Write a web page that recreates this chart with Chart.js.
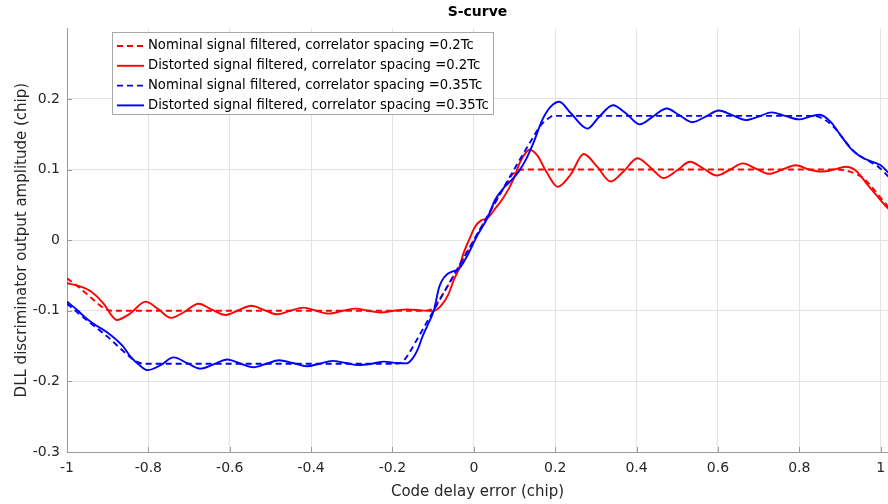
<!DOCTYPE html>
<html>
<head>
<meta charset="utf-8">
<script src="https://cdn.jsdelivr.net/npm/chart.js@4.4.1/dist/chart.umd.min.js"></script>
<style>
  html, body { margin: 0; padding: 0; background: #fff; }
  #wrap { width: 888px; height: 504px; }
</style>
</head>
<body>
<div id="wrap"><canvas id="sCurve"></canvas></div>
<script>
// tick values
const xTicks = [-1, -0.8, -0.6, -0.4, -0.2, 0, 0.2, 0.4, 0.6, 0.8, 1];
const yTicks = [-0.3, -0.2, -0.1, 0, 0.1, 0.2];

// nominal, spacing 0.2Tc (red dashed)
const nom02X = [-1.0, -0.97, -0.94, -0.91, -0.89, -0.86, -0.5, -0.13, -0.11, -0.095, -0.08, 0, 0.08, 0.095, 0.11, 0.125, 0.5, 0.89, 0.91, 0.934, 0.959, 0.983, 1.0, 1.019];
const nom02Y = [-0.054, -0.067, -0.082, -0.096, -0.1, -0.1, -0.1, -0.1, -0.099, -0.093, -0.08, 0, 0.08, 0.093, 0.099, 0.1, 0.1, 0.1, 0.099, 0.095, 0.087, 0.072, 0.06, 0.047];

// distorted, spacing 0.2Tc (red solid)
const dist02X = [-1.0, -0.97, -0.94, -0.91, -0.89, -0.878, -0.845, -0.807, -0.775, -0.745, -0.71, -0.677, -0.645, -0.61, -0.578, -0.547, -0.515, -0.483, -0.452, -0.418, -0.388, -0.357, -0.322, -0.289, -0.26, -0.229, -0.196, -0.163, -0.13, -0.1, -0.078, -0.062, -0.049, -0.037, -0.025, -0.012, 0.003, 0.018, 0.033, 0.053, 0.07, 0.086, 0.098, 0.115, 0.137, 0.156, 0.18, 0.206, 0.238, 0.27, 0.303, 0.336, 0.369, 0.402, 0.434, 0.466, 0.5, 0.531, 0.564, 0.597, 0.63, 0.661, 0.694, 0.726, 0.758, 0.791, 0.824, 0.855, 0.885, 0.914, 0.94, 0.967, 0.992, 1.008, 1.02];
const dist02Y = [-0.061, -0.065, -0.073, -0.09, -0.107, -0.113, -0.104, -0.087, -0.098, -0.11, -0.101, -0.09, -0.098, -0.106, -0.099, -0.093, -0.099, -0.105, -0.1, -0.0955, -0.1, -0.104, -0.1, -0.097, -0.1, -0.1025, -0.1, -0.098, -0.0995, -0.1005, -0.091, -0.076, -0.056, -0.041, -0.018, 0.0, 0.019, 0.028, 0.031, 0.045, 0.058, 0.073, 0.087, 0.112, 0.128, 0.12, 0.095, 0.0755, 0.093, 0.122, 0.104, 0.083, 0.098, 0.116, 0.103, 0.088, 0.099, 0.111, 0.1015, 0.0915, 0.1, 0.1087, 0.101, 0.094, 0.1, 0.106, 0.1, 0.097, 0.1, 0.104, 0.098, 0.079, 0.062, 0.051, 0.044];

// nominal, spacing 0.35Tc (blue dashed)
const nom035X = [-1.0, -0.95, -0.9, -0.86, -0.835, -0.81, -0.5, -0.19, -0.175, -0.16, -0.145, 0, 0.145, 0.165, 0.18, 0.195, 0.5, 0.836, 0.861, 0.885, 0.91, 0.934, 0.967, 0.996, 1.019];
const nom035Y = [-0.09, -0.114, -0.137, -0.158, -0.17, -0.175, -0.175, -0.175, -0.172, -0.161, -0.146, 0, 0.145, 0.163, 0.171, 0.176, 0.176, 0.176, 0.171, 0.16, 0.142, 0.126, 0.113, 0.103, 0.09];

// distorted, spacing 0.35Tc (blue solid)
const dist035X = [-1.0, -0.975, -0.95, -0.925, -0.9, -0.877, -0.86, -0.844, -0.82, -0.802, -0.77, -0.738, -0.705, -0.672, -0.64, -0.606, -0.573, -0.541, -0.51, -0.479, -0.445, -0.41, -0.38, -0.348, -0.315, -0.283, -0.25, -0.221, -0.19, -0.165, -0.15, -0.139, -0.125, -0.115, -0.098, -0.086, -0.078, -0.065, -0.05, -0.037, -0.016, 0.008, 0.033, 0.053, 0.075, 0.096, 0.11, 0.127, 0.148, 0.168, 0.189, 0.21, 0.238, 0.279, 0.307, 0.342, 0.375, 0.408, 0.44, 0.474, 0.505, 0.537, 0.57, 0.602, 0.635, 0.668, 0.7, 0.732, 0.765, 0.8, 0.826, 0.85, 0.877, 0.901, 0.926, 0.951, 0.975, 1.0, 1.02];
const dist035Y = [-0.087, -0.099, -0.112, -0.122, -0.131, -0.142, -0.152, -0.165, -0.178, -0.184, -0.177, -0.166, -0.174, -0.182, -0.176, -0.169, -0.175, -0.18, -0.175, -0.17, -0.174, -0.1785, -0.175, -0.171, -0.174, -0.177, -0.175, -0.172, -0.174, -0.1745, -0.167, -0.156, -0.135, -0.122, -0.099, -0.068, -0.057, -0.048, -0.044, -0.041, -0.022, 0.006, 0.031, 0.058, 0.075, 0.087, 0.097, 0.113, 0.14, 0.17, 0.189, 0.196, 0.18, 0.158, 0.174, 0.191, 0.179, 0.164, 0.175, 0.1865, 0.177, 0.167, 0.175, 0.1835, 0.177, 0.17, 0.175, 0.181, 0.176, 0.171, 0.175, 0.1775, 0.1675, 0.149, 0.13, 0.118, 0.112, 0.106, 0.095];

const pts = (xs, ys) => xs.map((x, i) => ({ x: x, y: ys[i] }));

const FONT = '"DejaVu Sans", "Liberation Sans", sans-serif';
const AXIS_GRAY = '#9a9a9a';

// legend drawn inside the axes, MATLAB style
const boxLegend = {
  id: 'boxLegend',
  afterDraw(chart) {
    const ctx = chart.ctx;
    const x0 = 112, y0 = 32, w = 381, h = 82, row = 19.8;
    ctx.save();
    ctx.fillStyle = '#fff';
    ctx.fillRect(x0, y0, w, h);
    ctx.strokeStyle = '#a8a8a8';
    ctx.lineWidth = 1;
    ctx.strokeRect(x0 + 0.5, y0 + 0.5, w, h);
    chart.data.datasets.forEach((ds, i) => {
      const y = y0 + 14 + i * row;
      ctx.setLineDash(ds.borderDash || []);
      ctx.strokeStyle = ds.borderColor;
      ctx.lineWidth = ds.borderWidth;
      ctx.beginPath();
      ctx.moveTo(x0 + 5, y);
      ctx.lineTo(x0 + 32, y);
      ctx.stroke();
      ctx.setLineDash([]);
      ctx.fillStyle = '#000';
      ctx.font = '13.2px ' + FONT;
      ctx.textBaseline = 'middle';
      ctx.fillText(ds.label, x0 + 36, y);
    });
    ctx.restore();
  }
};

// small inward tick marks on the bottom and left axes
const innerTicks = {
  id: 'innerTicks',
  afterDatasetsDraw(chart) {
    const { ctx, chartArea: a, scales } = chart;
    ctx.save();
    ctx.strokeStyle = AXIS_GRAY;
    ctx.lineWidth = 1;
    ctx.beginPath();
    xTicks.forEach(v => {
      const px = Math.round(scales.x.getPixelForValue(v)) + 0.5;
      ctx.moveTo(px, a.bottom);
      ctx.lineTo(px, a.bottom - 5);
    });
    yTicks.forEach(v => {
      const py = Math.round(scales.y.getPixelForValue(v)) + 0.5;
      ctx.moveTo(a.left, py);
      ctx.lineTo(a.left + 5, py);
    });
    ctx.stroke();
    ctx.restore();
  }
};

const line = (label, data, color, dashed, order) => ({
  label,
  data,
  borderColor: color,
  backgroundColor: color,
  borderWidth: 1.9,
  borderDash: dashed ? [6, 4] : [],
  pointRadius: 0,
  fill: false,
  cubicInterpolationMode: 'monotone',
  order
});

new Chart(document.getElementById('sCurve'), {
  type: 'line',
  data: {
    datasets: [
      line('Nominal signal filtered, correlator spacing =0.2Tc', pts(nom02X, nom02Y), '#ff0000', true, 3),
      line('Distorted signal filtered, correlator spacing =0.2Tc', pts(dist02X, dist02Y), '#ff0000', false, 2),
      line('Nominal signal filtered, correlator spacing =0.35Tc', pts(nom035X, nom035Y), '#0000ff', true, 1),
      line('Distorted signal filtered, correlator spacing =0.35Tc', pts(dist035X, dist035Y), '#0000ff', false, 0)
    ]
  },
  options: {
    responsive: true,
    maintainAspectRatio: false,
    animation: false,
    layout: { padding: 0 },
    plugins: {
      legend: { display: false },
      tooltip: { enabled: false },
      title: {
        display: true,
        text: 'S-curve',
        fullSize: false,
        color: '#000',
        font: { family: FONT, size: 14, weight: 'bold' },
        padding: { top: 3.5, bottom: 8 }
      }
    },
    scales: {
      x: {
        type: 'linear',
        min: -1,
        max: 1.018,
        afterBuildTicks: s => { s.ticks = xTicks.map(v => ({ value: v })); },
        afterFit: s => { s.height = 52; s.paddingLeft = 0; s.paddingRight = 0; },
        grid: { color: '#e3e3e3', drawTicks: false },
        border: { color: AXIS_GRAY, width: 1 },
        ticks: {
          color: '#262626',
          padding: 8,
          maxRotation: 0,
          font: { family: FONT, size: 14 },
          callback: v => String(Math.round(v * 10) / 10)
        },
        title: {
          display: true,
          text: 'Code delay error (chip)',
          color: '#262626',
          font: { family: FONT, size: 15 },
          padding: { top: 0, bottom: 3 }
        }
      },
      y: {
        min: -0.3,
        max: 0.3,
        afterBuildTicks: s => { s.ticks = yTicks.map(v => ({ value: v })); },
        afterFit: s => { s.width = 67; s.paddingTop = 0; s.paddingBottom = 0; },
        grid: { color: '#e3e3e3', drawTicks: false },
        border: { color: AXIS_GRAY, width: 1 },
        ticks: {
          color: '#262626',
          padding: 7,
          font: { family: FONT, size: 14 },
          callback: v => String(Math.round(v * 10) / 10)
        },
        title: {
          display: true,
          text: 'DLL discriminator output amplitude (chip)',
          color: '#262626',
          font: { family: FONT, size: 15 },
          padding: { top: 13.5, bottom: 0 }
        }
      }
    }
  },
  plugins: [boxLegend, innerTicks]
});
</script>
</body>
</html>
